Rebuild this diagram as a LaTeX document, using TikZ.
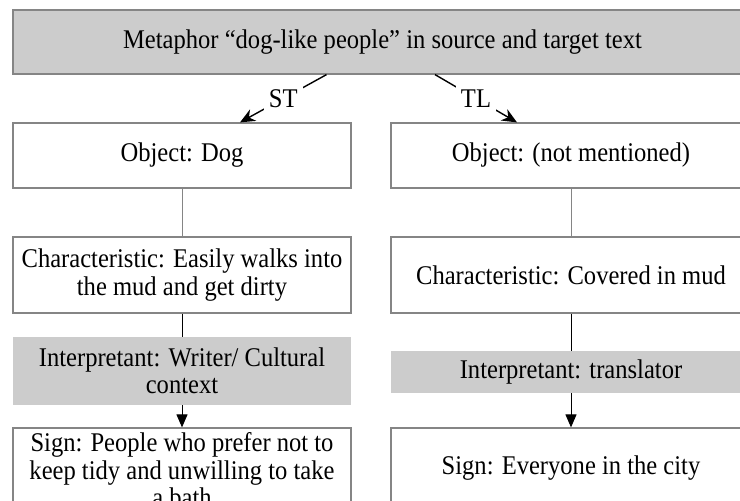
\documentclass[tikz,border=0pt]{standalone}
\usepackage{fontspec}
\setmainfont{Liberation Serif}[FakeStretch=0.91]
\usetikzlibrary{arrows.meta}
\definecolor{boxgray}{HTML}{CCCCCC}
\definecolor{linegray}{HTML}{858585}
\begin{document}
\begin{tikzpicture}[x=1pt,y=-1pt,
  every node/.style={font=\fontsize{27}{27.5}\selectfont, align=center, inner sep=0pt},
  wbox/.style={draw=linegray, line width=1.2pt, fill=white},
  gbox/.style={draw=none, fill=boxgray},
  tbox/.style={draw=linegray, line width=1.2pt, fill=boxgray},
  graylink/.style={draw=linegray, line width=1pt},
  blacklink/.style={draw=black, line width=1pt},
  downarrow/.style={draw=black, line width=1pt, -{Triangle[length=13pt,width=11pt]}},
  branch/.style={draw=black, line width=1.4pt, -{Stealth[length=15pt,width=13pt]}},
  branchlabel/.style={fill=white, inner sep=5pt}
]
\useasboundingbox (0,0) rectangle (740,501);
\clip (0,0) rectangle (740,501);

\node[tbox, minimum width=739pt, minimum height=64pt] (top) at (382.5,42)
  {Metaphor “dog-like people” in source and target text};

% left column
\node[wbox, minimum width=338pt, minimum height=65pt] (objL) at (182,155.5) {Object: Dog};
\node[wbox, minimum width=338pt, minimum height=76pt] (charL) at (182,275)
  {Characteristic: Easily walks into\\the mud and get dirty};
\node[gbox, minimum width=338pt, minimum height=68pt] (intL) at (182,371)
  {Interpretant: Writer/ Cultural\\context};
\node[wbox, minimum width=338pt, minimum height=84pt] (signL) at (182,470)
  {Sign: People who prefer not to\\keep tidy and unwilling to take\\a bath};

% right column
\node[wbox, minimum width=360pt, minimum height=65pt] (objR) at (571,155.5) {Object: (not mentioned)};
\node[wbox, minimum width=360pt, minimum height=76pt] (charR) at (571,275)
  {Characteristic: Covered in mud};
\node[gbox, minimum width=360pt, minimum height=42pt] (intR) at (571,372)
  {Interpretant: translator};
\node[wbox, minimum width=360pt, minimum height=80pt] (signR) at (571,468)
  {Sign: Everyone in the city};

% connectors
\draw[branch] ([xshift=-56pt]top.south) -- node[branchlabel] {ST} ([xshift=58pt]objL.north);
\draw[branch] ([xshift=52.5pt]top.south) -- node[branchlabel] {TL} ([xshift=-54pt]objR.north);

\draw[graylink] (objL.south) -- (charL.north);
\draw[blacklink] (charL.south) -- (intL.north);
\draw[downarrow] (intL.south) -- (signL.north);

\draw[graylink] (objR.south) -- (charR.north);
\draw[blacklink] (charR.south) -- (intR.north);
\draw[downarrow] (intR.south) -- (signR.north);
\end{tikzpicture}
\end{document}
